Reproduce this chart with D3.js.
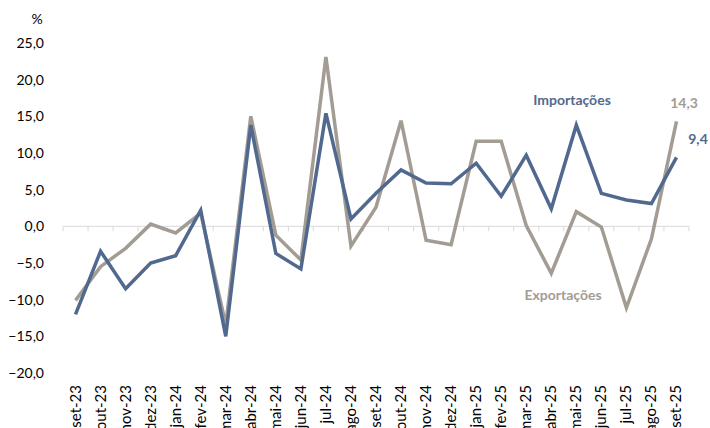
<!DOCTYPE html>
<meta charset="utf-8">
<style>
body { margin: 0; background: #fff; }
svg { font-family: Lato, "Open Sans", sans-serif; }
.ylab { font-size: 14px; fill: #000; }
.xlab { font-size: 15px; fill: #000; }
</style>
<svg width="710" height="428"></svg>
<script src="https://d3js.org/d3.v7.min.js"></script>
<script>

var months = ["set-23","out-23","nov-23","dez-23","jan-24","fev-24","mar-24","abr-24","mai-24","jun-24","jul-24","ago-24","set-24",
	"out-24","nov-24","dez-24","jan-25","fev-25","mar-25","abr-25","mai-25","jun-25","jul-25","ago-25","set-25"];

var importacoes = [-12.0, -3.4, -8.5, -5.0, -4.0, 2.2, -15.0, 13.8, -3.7, -5.8, 15.4, 1.0, 4.5,
	7.7, 5.9, 5.8, 8.6, 4.1, 9.7, 2.4, 13.8, 4.5, 3.6, 3.1, 9.4];

var exportacoes = [-10.1, -5.5, -3.0, 0.3, -0.9, 1.8, -13.4, 15.0, -1.2, -4.6, 23.1, -2.7, 2.6,
	14.4, -1.9, -2.5, 11.6, 11.6, 0.1, -6.4, 2.0, -0.1, -11.1, -1.7, 14.3];

var yTicks = [25, 20, 15, 10, 5, 0, -5, -10, -15, -20];

var svg = d3.select("svg");

var x = d3.scaleBand().domain(months).range([63, 689]),
	y = d3.scaleLinear().domain([-20, 25]).range([373, 43]);

var fmt = function(v) { return d3.format(".1f")(v).replace(".", ","); };

// y labels
svg.append("g").selectAll("text")
	.data(yTicks)
	.enter().append("text")
		.attr("class", "ylab")
		.attr("x", 44)
		.attr("y", function(d) { return y(d); })
		.attr("dy", "0.35em")
		.attr("text-anchor", "end")
		.text(fmt);

svg.append("text")
	.attr("class", "ylab")
	.attr("x", 37)
	.attr("y", 24)
	.attr("text-anchor", "middle")
	.text("%");

// zero axis line with ticks
var axisG = svg.append("g");
axisG.append("line")
	.attr("x1", x.range()[0]).attr("x2", x.range()[1])
	.attr("y1", y(0)).attr("y2", y(0))
	.attr("stroke", "#d9d9d9").attr("stroke-width", 1);
axisG.selectAll(".tk")
	.data(months.concat(["end"]))
	.enter().append("line")
		.attr("x1", function(d, i) { return x.range()[0] + i * x.bandwidth(); })
		.attr("x2", function(d, i) { return x.range()[0] + i * x.bandwidth(); })
		.attr("y1", y(0)).attr("y2", y(0) + 5)
		.attr("stroke", "#d9d9d9").attr("stroke-width", 1);

// x labels
svg.append("g").selectAll("text")
	.data(months)
	.enter().append("text")
		.attr("class", "xlab")
		.attr("text-anchor", "end")
		.attr("transform", function(d) {
			return "translate(" + (x(d) + x.bandwidth() / 2 + 5) + ",385) rotate(-90)";
		})
		.text(function(d) { return d; });

var line = d3.line()
	.x(function(d, i) { return x(months[i]) + x.bandwidth() / 2; })
	.y(function(d) { return y(d); });

svg.append("path")
	.datum(exportacoes)
	.attr("d", line)
	.attr("fill", "none")
	.attr("stroke", "#a39c93")
	.attr("stroke-width", 3.5)
	.attr("stroke-linejoin", "miter");

svg.append("path")
	.datum(importacoes)
	.attr("d", line)
	.attr("fill", "none")
	.attr("stroke", "#51698f")
	.attr("stroke-width", 3.5)
	.attr("stroke-linejoin", "miter");

// labels
svg.append("text")
	.attr("x", 572).attr("y", 105)
	.attr("text-anchor", "middle")
	.attr("font-size", 14).attr("font-weight", "bold")
	.attr("fill", "#51698f")
	.text("Importações");

svg.append("text")
	.attr("x", 563).attr("y", 300)
	.attr("text-anchor", "middle")
	.attr("font-size", 14).attr("font-weight", "bold")
	.attr("fill", "#a39c93")
	.text("Exportações");

var last = months.length - 1;
svg.append("text")
	.attr("x", 684).attr("y", 108)
	.attr("text-anchor", "middle")
	.attr("font-size", 14).attr("font-weight", "bold")
	.attr("fill", "#a39c93")
	.text(fmt(exportacoes[last]));

svg.append("text")
	.attr("x", 698).attr("y", 144)
	.attr("text-anchor", "middle")
	.attr("font-size", 14).attr("font-weight", "bold")
	.attr("fill", "#51698f")
	.text(fmt(importacoes[last]));

</script>
